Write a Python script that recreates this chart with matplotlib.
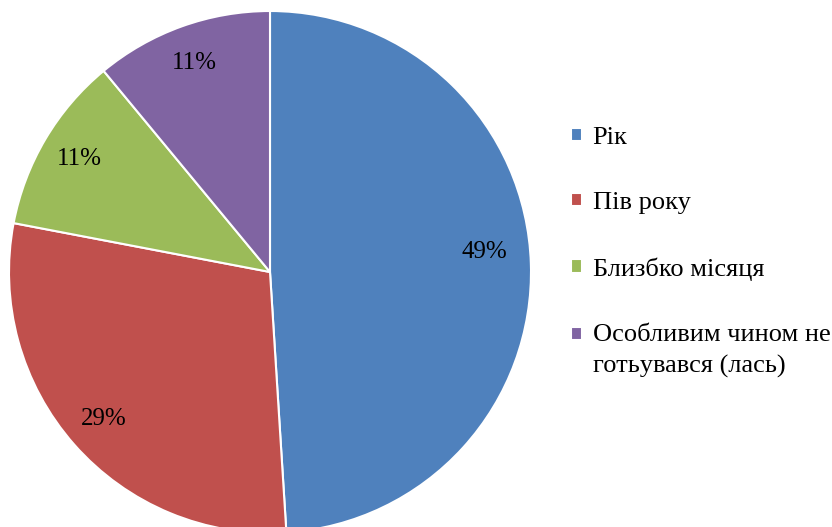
import matplotlib
matplotlib.use("Agg")
import matplotlib.pyplot as plt
import numpy as np

plt.rcParams['font.family'] = ['Liberation Serif', 'DejaVu Serif']

categories = ["Рік", "Пів року", "Близбко місяця", "Особливим чином не\nготьувався (лась)"]
values = [49, 29, 11, 11]
colors = ["#4F81BD", "#C0504D", "#9BBB59", "#8064A2"]

W, H = 832, 527
fig = plt.figure(figsize=(W / 100, H / 100), dpi=100)

cx, cy, r = 270, 272, 261
ax = fig.add_axes([(cx - r) / W, (H - cy - r) / H, 2 * r / W, 2 * r / H])
wedges, texts, autotexts = ax.pie(
    values, colors=colors, startangle=90, counterclock=False,
    autopct=lambda p: f"{p:.0f}%", pctdistance=0.85,
    wedgeprops=dict(edgecolor="white", linewidth=1.5),
    textprops=dict(fontsize=18, color="black"), radius=1.0)
ax.set_xlim(-1, 1)
ax.set_ylim(-1, 1)
ax.axis("off")

# Excel-style placement tweak for the large slice label
w0 = wedges[0]
ang = np.deg2rad((w0.theta1 + w0.theta2) / 2 + 3.5)
autotexts[0].set_position((0.825 * np.cos(ang), 0.825 * np.sin(ang)))

leg = fig.legend(wedges, categories, loc="upper left",
                 bbox_to_anchor=(571 / W, 1 - 127 / H), frameon=False,
                 fontsize=19, handlelength=0.42, handleheight=0.42,
                 handletextpad=0.4, labelspacing=1.63, borderpad=0,
                 borderaxespad=0)
for t in leg.get_texts():
    t.set_linespacing(1.55)
h = leg.legend_handles[3]
h.set_y(h.get_y() + 12)
fig.savefig("out.png", dpi=100)
